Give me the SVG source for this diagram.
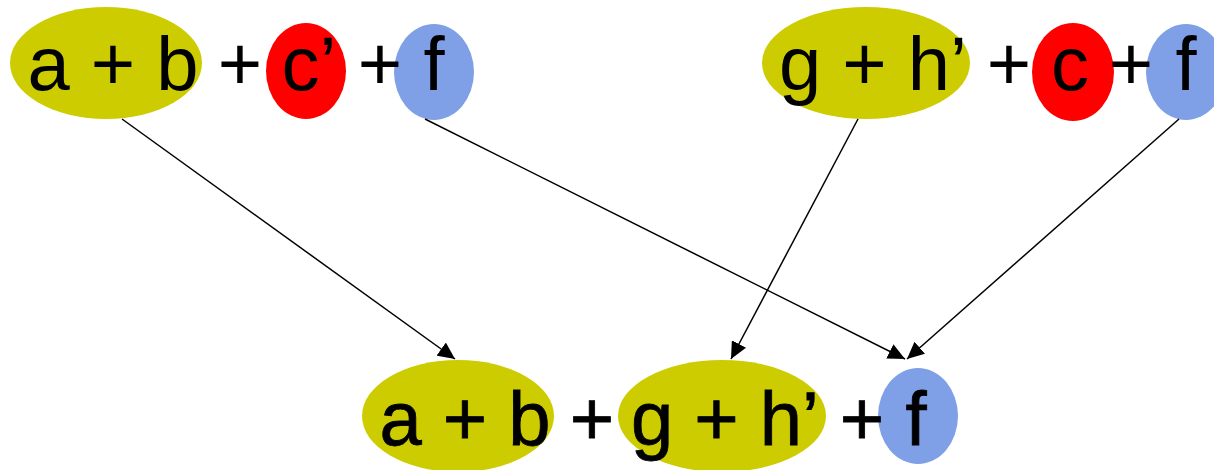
<svg xmlns="http://www.w3.org/2000/svg" width="1214" height="470" viewBox="0 0 1214 470">
<style>
.olive{fill:#CCCC00}
.red{fill:#FF0000}
.blue{fill:#7F9FE6}
text{font-family:"Liberation Sans",Arial,sans-serif;font-size:76px;fill:#000;text-anchor:middle}
.b text{stroke:#000;stroke-width:0.8}
.conn line{stroke:#000;stroke-width:1.5;marker-end:url(#ah)}
</style>
<defs>
<marker id="ah" markerUnits="userSpaceOnUse" markerWidth="19" markerHeight="16" refX="17" refY="8" orient="auto">
<path d="M0,0 L17,8 L0,16 Z" fill="#000"/>
</marker>
</defs>
<g id="top-left">
<ellipse class="olive" cx="106" cy="63" rx="96" ry="56"/>
<ellipse class="red" cx="306" cy="71" rx="40" ry="48"/>
<ellipse class="blue" cx="434" cy="72" rx="40" ry="48"/>
<text x="113" y="90">a + b</text>
<text x="240" y="90">+</text>
<text x="309" y="90">c’</text>
<text x="380" y="90">+</text>
<text x="434" y="90">f</text>
</g>
<g id="top-right">
<ellipse class="olive" cx="866" cy="63" rx="104" ry="56"/>
<ellipse class="red" cx="1073" cy="72" rx="41" ry="49"/>
<ellipse class="blue" cx="1186" cy="72" rx="40" ry="48"/>
<text x="873" y="90">g + h’</text>
<text x="1009" y="90">+</text>
<text x="1070" y="90">c</text>
<text x="1131" y="90">+</text>
<text x="1186" y="90">f</text>
</g>
<g id="bottom" class="b">
<ellipse class="olive" cx="458" cy="416" rx="96" ry="56"/>
<ellipse class="olive" cx="722" cy="416" rx="104" ry="56"/>
<ellipse class="blue" cx="918" cy="416" rx="40" ry="48"/>
<text x="465" y="445">a + b</text>
<text x="592" y="445">+</text>
<text x="725" y="445">g + h’</text>
<text x="862" y="445">+</text>
<text x="916" y="445">f</text>
</g>
<g id="connectors" class="conn">
<line x1="122" y1="119" x2="455" y2="359"/>
<line x1="425" y1="119" x2="905" y2="359"/>
<line x1="858" y1="119" x2="731" y2="359"/>
<line x1="1179" y1="119" x2="907" y2="359"/>
</g>
</svg>
